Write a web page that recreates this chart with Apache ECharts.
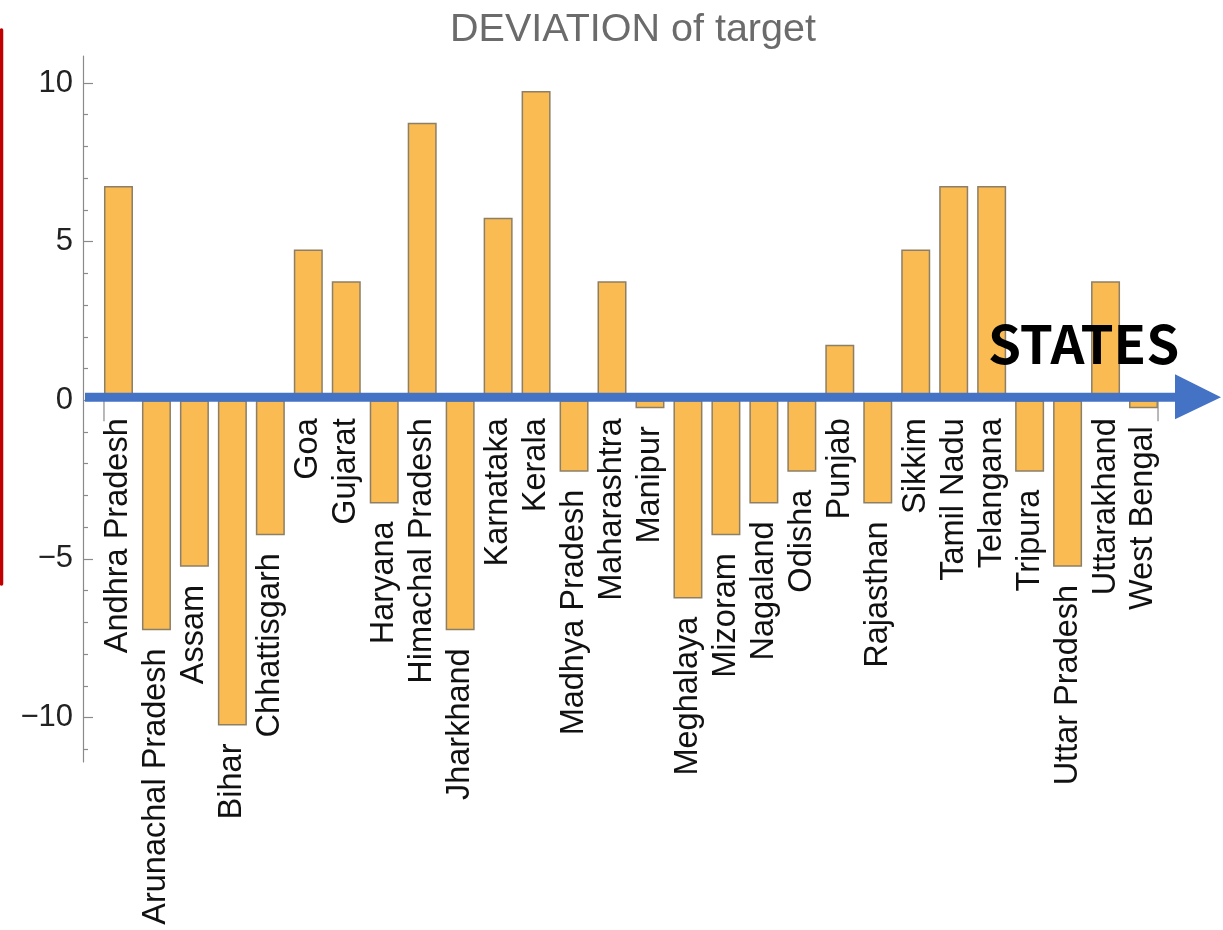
<!DOCTYPE html>
<html>
<head>
<meta charset="utf-8">
<script src="https://cdn.jsdelivr.net/npm/echarts@6/dist/echarts.min.js"></script>
<style>
html,body{margin:0;padding:0;background:#fff;}
#main{width:1223px;height:930px;}
</style>
</head>
<body>
<div id="main"></div>
<script>
const categories = ['Andhra Pradesh','Arunachal Pradesh','Assam','Bihar','Chhattisgarh','Goa','Gujarat','Haryana','Himachal Pradesh','Jharkhand','Karnataka','Kerala','Madhya Pradesh','Maharashtra','Manipur','Meghalaya','Mizoram','Nagaland','Odisha','Punjab','Rajasthan','Sikkim','Tamil Nadu','Telangana','Tripura','Uttar Pradesh','Uttarakhand','West Bengal'];
const deviations = [6.75,-7.25,-5.25,-10.25,-4.25,4.75,3.75,-3.25,8.75,-7.25,5.75,9.75,-2.25,3.75,-0.25,-6.25,-4.25,-3.25,-2.25,1.75,-3.25,4.75,6.75,6.75,-2.25,-5.25,3.75,-0.25];
const yMajorTicks = [-10,-5,0,5,10];
const yMinorTicks = [-11,-9,-8,-7,-6,-4,-3,-2,-1,1,2,3,4,6,7,8,9];
const titleText = 'DEVIATION of target';
const axisName = 'STATES';

const Y_MIN = -11.4, Y_MAX = 10.85;
const chart = echarts.init(document.getElementById('main'));
const axisGray = '#8a8a8a';
const option = {
  animation: false,
  title: {
    text: titleText, left: 628, top: 5, textAlign: 'center',
    textStyle: {fontFamily: 'Liberation Sans', fontSize: 39.5, fontWeight: 'normal', color: '#6b6b6b'}
  },
  grid: {left: 99.5, right: 60.5, top: 56, bottom: 168},
  xAxis: {
    type: 'category', data: categories,
    axisLine: {show: false}, axisTick: {show: false}, axisLabel: {show: false}, splitLine: {show: false}
  },
  yAxis: [{
    type: 'value', min: Y_MIN, max: Y_MAX, offset: 16.5, position: 'left',
    axisLine: {show: true, lineStyle: {color: axisGray, width: 1.2}},
    axisTick: {show: true, inside: true, length: 10, customValues: yMajorTicks, lineStyle: {color: axisGray, width: 1.2}},
    axisLabel: {
      customValues: yMajorTicks, margin: 10, fontSize: 31, fontFamily: 'Liberation Sans', color: '#222',
      formatter: v => (v < 0 ? '\u2212' + Math.abs(v) : String(v))
    },
    splitLine: {show: false}
  }, {
    type: 'value', min: Y_MIN, max: Y_MAX, offset: 16.5, position: 'left',
    axisLine: {show: false},
    axisTick: {show: true, inside: true, length: 5, customValues: yMinorTicks, lineStyle: {color: axisGray, width: 1.2}},
    axisLabel: {show: false}, splitLine: {show: false}
  }],
  series: [{
    type: 'bar', data: deviations, yAxisIndex: 0, barWidth: 29,
    itemStyle: {color: '#F9BB52', borderColor: '#8d7f66', borderWidth: 1.5},
    label: {
      show: true, position: 'bottom', rotate: 90, align: 'right', verticalAlign: 'middle', distance: 18,
      formatter: p => p.name, fontSize: 32.5, fontFamily: 'Liberation Sans', color: '#111'
    }
  }]
};
chart.setOption(option);

const zeroY = chart.convertToPixel({yAxisIndex: 0}, 0);
const firstX = chart.convertToPixel({xAxisIndex: 0}, categories[0]);
const lastX = chart.convertToPixel({xAxisIndex: 0}, categories[categories.length - 1]);
const arrowY = zeroY - 3;
chart.setOption({
  graphic: [
    {type: 'line', z: 100, shape: {x1: firstX - 14.5, y1: zeroY, x2: firstX - 14.5, y2: zeroY + 21}, style: {stroke: axisGray, lineWidth: 1.2}},
    {type: 'line', z: 100, shape: {x1: lastX + 14.5, y1: zeroY, x2: lastX + 14.5, y2: zeroY + 21}, style: {stroke: axisGray, lineWidth: 1.2}},
    {type: 'line', z: 100, shape: {x1: 85, y1: arrowY, x2: 1178, y2: arrowY}, style: {stroke: '#4472C4', lineWidth: 9}},
    {type: 'polygon', z: 100, shape: {points: [[1175, arrowY - 23], [1221, arrowY], [1175, arrowY + 22]]}, style: {fill: '#4472C4'}},
    {type: 'text', z: 101, x: 988, y: 344, style: {text: axisName, font: 'bold 53px "Noto Sans CJK JP"', fill: '#000', verticalAlign: 'middle'}},
    {type: 'line', z: 100, shape: {x1: 1.5, y1: 30, x2: 1.5, y2: 584}, style: {stroke: '#C00000', lineWidth: 3.5, lineCap: 'round'}}
  ]
});
</script>
</body>
</html>
